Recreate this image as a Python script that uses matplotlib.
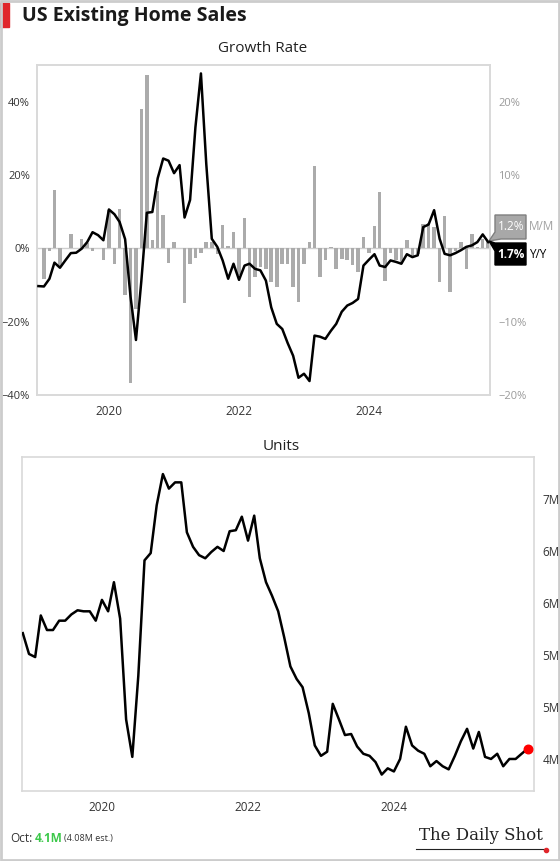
import numpy as np
import pandas as pd
import matplotlib
matplotlib.use("Agg")
import matplotlib.pyplot as plt
import matplotlib.dates as mdates
from matplotlib.patches import Polygon, Rectangle
from matplotlib.lines import Line2D
from matplotlib.ticker import FuncFormatter

plt.rcParams['font.family'] = ['Open Sans', 'DejaVu Sans']

# --- Données ---
dates = pd.date_range("2018-11-30", periods=84, freq="ME")

units = [5.21, 5.01, 4.98, 5.38, 5.24, 5.24, 5.33, 5.33, 5.39, 5.43, 5.42, 5.42,
         5.33, 5.53, 5.42, 5.70, 5.35, 4.38, 4.02, 4.80, 5.91, 5.98, 6.44, 6.74,
         6.60, 6.66, 6.66, 6.18, 6.04, 5.96, 5.93, 5.99, 6.04, 6.00, 6.19, 6.20,
         6.33, 6.10, 6.34, 5.93, 5.70, 5.57, 5.42, 5.17, 4.89, 4.77, 4.69, 4.44,
         4.13, 4.03, 4.07, 4.53, 4.38, 4.23, 4.24, 4.12, 4.05, 4.03, 3.97, 3.85,
         3.91, 3.88, 4.00, 4.31, 4.13, 4.08, 4.05, 3.93, 3.98, 3.93, 3.90, 4.03,
         4.17, 4.29, 4.10, 4.26, 4.02, 4.00, 4.05, 3.93, 4.00, 4.00, 4.05, 4.10]

yoy = [-10.3, -10.4, -8.3, -3.9, -5.3, -3.3, -1.3, -1.2, -0.1, 1.7, 4.4, 3.6,
       2.2, 10.6, 9.3, 7.2, 2.5, -13.0, -25.0, -9.0, 9.7, 9.9, 19.1, 24.5,
       23.9, 20.5, 22.7, 8.4, 13.2, 33.0, 47.7, 23.0, 2.6, 0.4, -3.3, -8.3,
       -4.2, -8.6, -4.7, -4.2, -5.6, -6.0, -8.8, -16.1, -20.6, -22.0, -25.8, -29.3,
       -35.3, -34.2, -36.2, -23.8, -24.1, -24.7, -22.5, -20.6, -17.3, -15.6, -14.9, -13.8,
       -4.7, -3.1, -1.6, -4.7, -5.1, -3.3, -3.7, -4.2, -1.6, -2.4, -1.9, 5.8,
       6.5, 10.4, 2.6, -1.5, -1.9, -1.3, -0.5, 0.4, 0.8, 1.7, 3.8, 1.7]

mom = [np.nan, -4.2, -0.4, 8.0, -2.6, 0.0, 1.9, 0.1, 1.3, 0.7, -0.4, 0.1,
       -1.6, 5.2, -2.1, 5.3, -6.3, -18.4, -8.3, 19.0, 23.7, 1.1, 7.8, 4.5,
       -2.0, 0.9, 0.1, -7.4, -2.1, -1.3, -0.6, 0.9, 0.8, -0.8, 3.2, 0.3,
       2.2, -3.7, 4.1, -6.7, -3.9, -2.5, -2.8, -4.6, -5.3, -2.1, -2.1, -5.3,
       -7.3, -2.1, 0.9, 11.2, -3.9, -1.6, 0.2, -2.8, -1.4, -1.6, -2.3, -3.2,
       1.6, -0.7, 3.1, 7.7, -4.4, -0.7, -1.6, -2.1, 1.2, -1.0, -0.8, 3.3,
       3.5, 2.9, -4.6, 4.4, -6.0, -0.3, 0.9, -2.8, 2.0, 0.2, 1.3, 1.2]

annees = [2020, 2022, 2024]

W, H = 560, 861
fig = plt.figure(figsize=(W / 100, H / 100), dpi=100)
fig.patch.set_facecolor("white")


def fx(x):
    return x / W


def fy(y):
    return 1 - y / H


gris_cadre = "#d9d9d9"
x_ticks = [pd.Timestamp(f"{a}-01-01") for a in annees]
fmt_pct = FuncFormatter(lambda v, p: f"{v:.0f}%".replace("-", "\u2212"))


def style_axe(ax):
    for s in ax.spines.values():
        s.set_color(gris_cadre)
        s.set_linewidth(1.2)
    ax.tick_params(length=0)


# --- Graphique du haut : taux de croissance ---
axb = fig.add_axes([fx(37), fy(395), fx(490) - fx(37), fy(65) - fy(395)])
axb.bar(dates, mom, width=20, color="#ababab", zorder=2)
axb.axhline(0, color="#cfcfcf", lw=1, zorder=1)
axb.set_ylim(-20, 25)
axb.set_xlim(pd.Timestamp("2018-11-22"), pd.Timestamp("2025-11-10"))
axb.set_xticks(x_ticks)
axb.xaxis.set_major_formatter(mdates.DateFormatter("%Y"))
axb.tick_params(axis="x", colors="#333333", labelsize=8.5, pad=7)

axl = axb.twinx()
axl.plot(dates, yoy, color="black", lw=1.8, zorder=3)
axl.set_ylim(-40, 50)
axl.set_yticks([-40, -20, 0, 20, 40])
axl.yaxis.tick_left()
axl.yaxis.set_major_formatter(fmt_pct)
axl.tick_params(axis="y", colors="#333333", labelsize=8, pad=5)
style_axe(axl)

# twinx remet les graduations de axb à gauche : on les repasse à droite
axb.yaxis.tick_right()
axb.set_yticks([-20, -10, 10, 20])
axb.yaxis.set_major_formatter(fmt_pct)
axb.tick_params(axis="y", colors="#9a9a9a", labelsize=8, pad=6)
style_axe(axb)

fig.text(fx(263), fy(49), "Growth Rate", ha="center", va="center",
         fontsize=11, color="#222222")

# --- Étiquettes des dernières valeurs ---
poly_mm = [(495, 215), (526, 215), (526, 239), (501, 239), (489, 241), (495, 232)]
poly_yy = [(495, 243), (526, 243), (526, 265), (495, 265), (495, 251), (489, 241)]
fig.add_artist(Polygon([(fx(a), fy(b)) for a, b in poly_mm], closed=True,
                       transform=fig.transFigure, facecolor="#a8a8a8",
                       edgecolor="#7f7f7f", lw=1))
fig.add_artist(Polygon([(fx(a), fy(b)) for a, b in poly_yy], closed=True,
                       transform=fig.transFigure, facecolor="black",
                       edgecolor="black", lw=1))
fig.text(fx(511), fy(227), f"{mom[-1]:.1f}%", ha="center", va="center",
         fontsize=8.5, color="white")
fig.text(fx(529), fy(227), "M/M", ha="left", va="center", fontsize=8.5, color="#a0a0a0")
fig.text(fx(511), fy(254), f"{yoy[-1]:.1f}%", ha="center", va="center",
         fontsize=8.5, color="white", fontweight="bold")
fig.text(fx(529), fy(254), "Y/Y", ha="left", va="center", fontsize=8.5, color="black")

# --- Graphique du bas : unités ---
ax2 = fig.add_axes([fx(22), fy(791), fx(534) - fx(22), fy(457) - fy(791)])
ax2.plot(dates, units, color="black", lw=1.8, zorder=3)
ax2.scatter([dates[-1]], [units[-1]], s=38, color="red", zorder=4)
ax2.set_ylim(3.692, 6.904)
ax2.set_yticks([4.0, 4.5, 5.0, 5.5, 6.0, 6.5])
ax2.yaxis.tick_right()
ax2.yaxis.set_major_formatter(FuncFormatter(lambda v, p: f"{int(np.floor(v + 0.5))}M"))
ax2.tick_params(axis="y", colors="#333333", labelsize=8.5, pad=6)
ax2.set_xlim(pd.Timestamp("2018-11-26"), pd.Timestamp("2025-12-01"))
ax2.set_xticks(x_ticks)
ax2.xaxis.set_major_formatter(mdates.DateFormatter("%Y"))
ax2.tick_params(axis="x", colors="#333333", labelsize=8.5, pad=7)
style_axe(ax2)

fig.text(fx(281), fy(447), "Units", ha="center", va="center", fontsize=11, color="#222222")

# --- Titre et cadre ---
fig.add_artist(Rectangle((fx(0), fy(27)), fx(9), fy(3) - fy(27),
                         transform=fig.transFigure, color="#e0262b"))
fig.text(fx(22), fy(16), "US Existing Home Sales", ha="left", va="center",
         fontsize=14, fontweight="bold", color="#1a1a1a")
fig.add_artist(Rectangle((0.001, 0.001), 0.998, 0.998, transform=fig.transFigure,
                         fill=False, edgecolor="#cccccc", lw=2))

# --- Pied de page ---
fig.text(fx(10), fy(838), "Oct:", ha="left", va="center", fontsize=8.5, color="#333333")
fig.text(fx(35), fy(838), f"{units[-1]:.1f}M", ha="left", va="center",
         fontsize=8.5, color="#3cc84a", fontweight="bold")
fig.text(fx(64), fy(838), "(4.08M est.)", ha="left", va="center",
         fontsize=6.5, color="#333333")

fig.text(fx(481), fy(836), "The Daily Shot", ha="center", va="center",
         fontsize=12, family="DejaVu Serif", color="#222222")
fig.add_artist(Line2D([fx(416), fx(546)], [fy(849), fy(849)],
                      transform=fig.transFigure, color="#222222", lw=0.8))
fig.add_artist(Line2D([fx(546)], [fy(850)], transform=fig.transFigure,
                      marker="o", markersize=3, color="#e0262b"))

fig.savefig("out.png", dpi=100)
